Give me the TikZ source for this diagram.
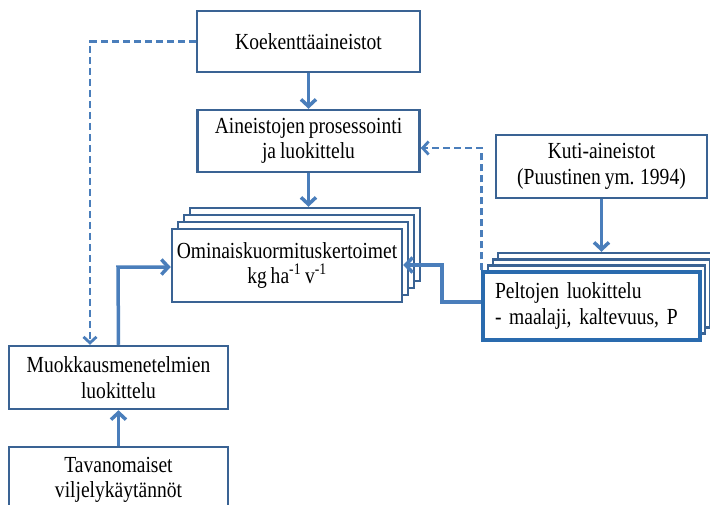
\documentclass[tikz,border=0pt]{standalone}
\usepackage{fontspec}
\setmainfont{Liberation Serif}[FakeStretch=0.85, WordSpace=0.8]
\usetikzlibrary{arrows.meta}
\definecolor{boxblue}{HTML}{3A6394}
\definecolor{linkblue}{HTML}{4A7EBB}
\definecolor{hiblue}{HTML}{2A6BAE}
\begin{document}
\begin{tikzpicture}[x=1pt,y=-1pt,
  card/.style={draw=boxblue, line width=2.5pt, fill=white, inner sep=0pt,
    font=\fontsize{23}{25.5}\selectfont, align=center},
  link/.style={draw=linkblue, line width=3.5pt,
    -{Straight Barb[length=7pt,width=15pt]}},
  dlink/.style={draw=linkblue, line width=2.8pt, dash pattern=on 7pt off 4pt,
    -{Straight Barb[length=6pt,width=13pt]}}]
\useasboundingbox (0,0) rectangle (710,504);

% top chain
\node[card, minimum width=223pt, minimum height=61pt] (koe) at (308.5,41.5)
  {Koekenttäaineistot};
\node[card, minimum width=222pt, minimum height=62pt] (proc) at (308.5,141)
  {Aineistojen prosessointi\\ja luokittelu};

% stacked coefficient cards
\node[card, minimum width=230pt, minimum height=73pt] (omin3) at (305,244.5) {};
\node[card, minimum width=230pt, minimum height=73pt] (omin2) at (299,251.5) {};
\node[card, minimum width=230pt, minimum height=73pt] (omin1) at (293,258.5) {};
\node[card, minimum width=230pt, minimum height=73pt] (omin) at (287,265.5)
  {Ominaiskuormituskertoimet\\kg ha\textsuperscript{-1} v\textsuperscript{-1}};

% Kuti data and the field classification stack
\node[card, minimum width=211pt, minimum height=63pt] (kuti) at (601.5,166.5)
  {Kuti-aineistot\\(Puustinen ym. 1994)};
\node[card, minimum width=217pt, minimum height=68pt] (pelt3) at (606.5,287) {};
\node[card, minimum width=217pt, minimum height=68pt] (pelt2) at (601.5,293.3) {};
\node[card, minimum width=217pt, minimum height=68pt] (pelt1) at (596.5,299.6) {};
\node[card, draw=hiblue, line width=3.2pt, align=left, inner xsep=12pt,
  text width=193pt, minimum height=68pt] (pelt) at (591.5,306)
  {Peltojen luokittelu\\- maalaji, kaltevuus, P};

% left column
\node[card, minimum width=219pt, minimum height=63pt] (mouk) at (118.5,377.5)
  {Muokkausmenetelmien\\luokittelu};
\node[card, minimum width=219pt, minimum height=66pt] (tav) at (118.5,480)
  {Tavanomaiset\\viljelykäytännöt};

% connectors
\draw[link] (koe.south) -- (koe.south |- proc.north);
\draw[link] (proc.south) -- (proc.south |- omin3.north);
\draw[link] (kuti.south) -- (kuti.south |- pelt3.north);

\coordinate (pbend) at (442,265);
\draw[link] ([yshift=4pt]pelt.west) -| (pbend) -- (pbend -| omin.east);

\draw[dlink] (pelt.north west) |- ([yshift=-7pt]proc.east);

\coordinate (dk) at (90,42);
\draw[dlink] (koe.west) -- (koe.west -| dk) -- (dk |- mouk.north);

\coordinate (mk) at (118,267);
\draw[link] (mouk.north) -- (mk) -- (mk -| omin.west);

\draw[link] (tav.north) -- (mouk.south);
\end{tikzpicture}
\end{document}
